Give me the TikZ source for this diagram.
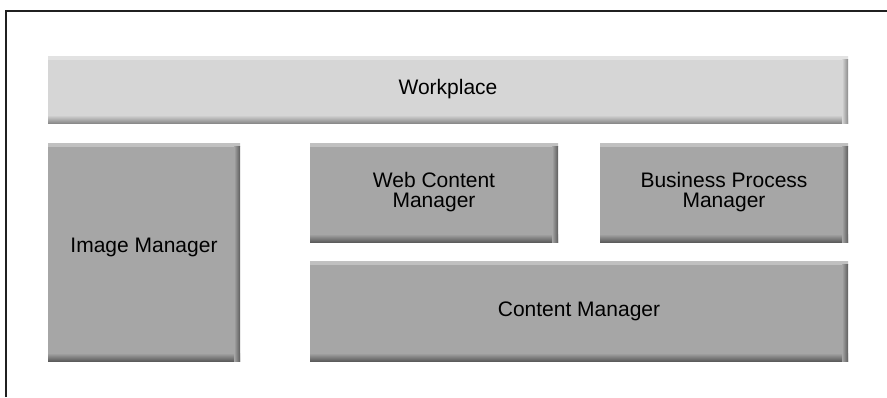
\documentclass[tikz,border=0pt]{standalone}
\usepackage{fontspec}
\setmainfont{Liberation Sans}
\usepackage{tikz}

\definecolor{lightfill}{HTML}{D6D6D6}
\definecolor{lightedge}{HTML}{8A8A8A}
\definecolor{darkfill}{HTML}{A6A6A6}
\definecolor{darkedge}{HTML}{5C5C5C}
\definecolor{framecol}{HTML}{202020}

\tikzset{
  block/.style 2 args={fill=#1, inner sep=0pt, outer sep=0pt, anchor=north west,
    align=center, font=\fontsize{10.5}{10}\selectfont,
    path picture={
      \shade[top color=#1!70!white, bottom color=#1]
        (path picture bounding box.north west) rectangle ([yshift=-1.5pt]path picture bounding box.north east);
      \shade[top color=#1, bottom color=#2]
        ([yshift=4pt]path picture bounding box.south west) rectangle (path picture bounding box.south east);
      \shade[left color=#1, right color=#2]
        ([xshift=-3pt,yshift=-1.5pt]path picture bounding box.north east) rectangle (path picture bounding box.south east);
    }},
}

\begin{document}
\begin{tikzpicture}[x=0.5pt,y=-0.5pt]
\useasboundingbox (0,0) rectangle (887,397);

\draw[framecol, line width=1pt] (6,397) -- (6,11) -- (887,11);

\node[block={lightfill}{lightedge}, minimum width=400pt, minimum height=33.5pt] (work) at (48,56) {Workplace};

\node[block={darkfill}{darkedge}, minimum width=96pt, minimum height=109pt] (image) at (48,143) {Image Manager\\[-3pt]};
\node[block={darkfill}{darkedge}, minimum width=124pt, minimum height=49.5pt] (web) at (310,143) {Web Content\\Manager};
\node[block={darkfill}{darkedge}, minimum width=124pt, minimum height=49.5pt] (bpm) at (600,143) {Business Process\\Manager};
\node[block={darkfill}{darkedge}, minimum width=269pt, minimum height=50pt] (content) at (310,261) {Content Manager};
\end{tikzpicture}
\end{document}
